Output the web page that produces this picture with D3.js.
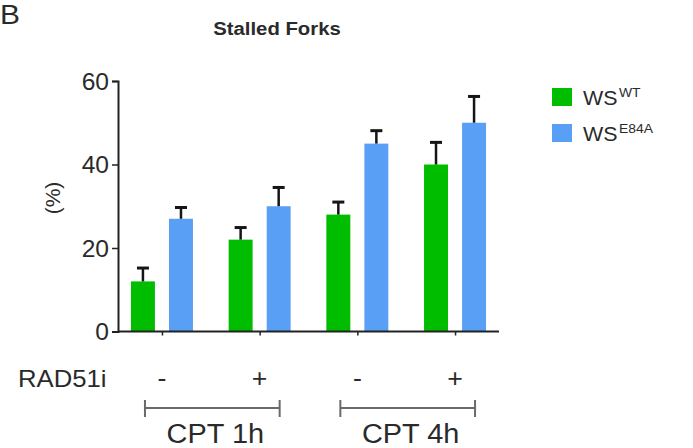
<!DOCTYPE html>
<html>
<head>
<meta charset="utf-8">
<script src="https://cdn.jsdelivr.net/npm/d3@7"></script>
<style>
  html, body { margin: 0; padding: 0; background: #fff; }
  svg text { font-family: "Liberation Sans", Arial, Helvetica, sans-serif; fill: #2a2a2a; }
</style>
</head>
<body>
<div id="chart"></div>
<script>
// data
const groups = ['g1', 'g2', 'g3', 'g4'];
const rad51i = ['-', '+', '-', '+'];
const cptLabels = ['CPT 1h', 'CPT 4h'];
const cptGroups = [['g1', 'g2'], ['g3', 'g4']];
const series = ['WT', 'E84A'];
const wtValues = [12, 22, 28, 40];
const wtErr = [3.2, 2.9, 3.0, 5.3];
const e84aValues = [27, 30, 45, 50];
const e84aErr = [2.7, 4.5, 3.1, 6.3];
const yTicks = [0, 20, 40, 60];

const width = 693;
const height = 448;
const SX = 1.07; // text looks a bit stretched in the source

const svg = d3.select('#chart')
  .append('svg')
  .attr('width', width)
  .attr('height', height);

const colors = {WT: '#00bd00', E84A: '#5a9ff6'};

const y = d3.scaleLinear().domain([0, 60]).range([331.5, 81]);
const x = d3.scalePoint().domain(groups).range([118, 499]).padding(0.45);
const xs = d3.scaleBand().domain(series).range([-31, 31]).paddingInner(0.37);

function label(parent, tx, ty, str, size, anchor) {
  return parent.append('text')
    .attr('transform', `translate(${tx},${ty}) scale(${SX},1)`)
    .attr('text-anchor', anchor || 'start')
    .style('font-size', size + 'px')
    .text(str);
}

// panel letter + title
label(svg, 0, 24, 'B', 28);
label(svg, 277, 35, 'Stalled Forks', 19, 'middle').style('font-weight', 'bold');

// bars
const rows = [];
groups.forEach((g, i) => {
  rows.push({g, s: 'WT', v: wtValues[i], e: wtErr[i]});
  rows.push({g, s: 'E84A', v: e84aValues[i], e: e84aErr[i]});
});

const bars = svg.append('g');
bars.selectAll('rect')
  .data(rows)
  .enter().append('rect')
  .attr('x', d => x(d.g) + xs(d.s))
  .attr('y', d => y(d.v))
  .attr('width', xs.bandwidth())
  .attr('height', d => y(0) - y(d.v))
  .attr('fill', d => colors[d.s]);

// error bars (upper only)
const err = svg.append('g').attr('stroke', '#151515');
err.selectAll('line.stem')
  .data(rows)
  .enter().append('line')
  .attr('class', 'stem')
  .attr('x1', d => x(d.g) + xs(d.s) + xs.bandwidth() / 2)
  .attr('x2', d => x(d.g) + xs(d.s) + xs.bandwidth() / 2)
  .attr('y1', d => y(d.v))
  .attr('y2', d => y(d.v + d.e))
  .attr('stroke-width', 2.5);
err.selectAll('line.cap')
  .data(rows)
  .enter().append('line')
  .attr('class', 'cap')
  .attr('x1', d => x(d.g) + xs(d.s) + xs.bandwidth() / 2 - 6)
  .attr('x2', d => x(d.g) + xs(d.s) + xs.bandwidth() / 2 + 6)
  .attr('y1', d => y(d.v + d.e))
  .attr('y2', d => y(d.v + d.e))
  .attr('stroke-width', 3);

// y axis
const yAxis = svg.append('g')
  .attr('transform', 'translate(118,0)')
  .call(d3.axisLeft(y).tickValues(yTicks).tickSize(6).tickPadding(2));
yAxis.select('.domain').attr('stroke', '#222').attr('stroke-width', 2);
yAxis.selectAll('.tick line').attr('stroke', '#222').attr('stroke-width', 1.5);
yAxis.selectAll('.tick text')
  .attr('x', null)
  .attr('dy', null)
  .attr('transform', `translate(-9,8) scale(${SX},1)`)
  .style('font-size', '23px')
  .style('font-family', '"Liberation Sans", Arial, sans-serif')
  .attr('fill', '#333');

// x axis
const xAxis = svg.append('g')
  .attr('transform', `translate(0,${y(0)})`)
  .call(d3.axisBottom(x).tickSize(4).tickFormat(''));
xAxis.select('.domain').attr('d', 'M118,0H499').attr('stroke', '#222').attr('stroke-width', 2);
xAxis.selectAll('.tick line').attr('stroke', '#222').attr('stroke-width', 1.5);

// y label
svg.append('text')
  .attr('transform', 'translate(60,198) rotate(-90)')
  .attr('text-anchor', 'middle')
  .style('font-size', '21px')
  .text('(%)');

// RAD51i row
label(svg, 18, 387, 'RAD51i', 24);
groups.forEach((g, i) => {
  label(svg, x(g), 387, rad51i[i], 25, 'middle');
});

// CPT brackets
const br = svg.append('g').attr('stroke', '#6a6a6a').attr('stroke-width', 2);
cptGroups.forEach((pair, i) => {
  const x0 = x(pair[0]) - 17;
  const x1 = x(pair[1]) + 20;
  br.append('line').attr('x1', x0).attr('x2', x1).attr('y1', 408).attr('y2', 408);
  br.append('line').attr('x1', x0).attr('x2', x0).attr('y1', 400).attr('y2', 417);
  br.append('line').attr('x1', x1).attr('x2', x1).attr('y1', 400).attr('y2', 417);
  label(svg, (x0 + x1) / 2 + 3, 443, cptLabels[i], 27, 'middle');
});

// legend
const legend = svg.append('g');
series.forEach((s, i) => {
  const ly = 88 + i * 36;
  legend.append('rect')
    .attr('x', 552).attr('y', ly)
    .attr('width', 20).attr('height', 18)
    .attr('fill', colors[s]);
  label(legend, 583, ly + 17, 'WS', 20);
  label(legend, 619, ly + 9, s, 13);
});
</script>
</body>
</html>
